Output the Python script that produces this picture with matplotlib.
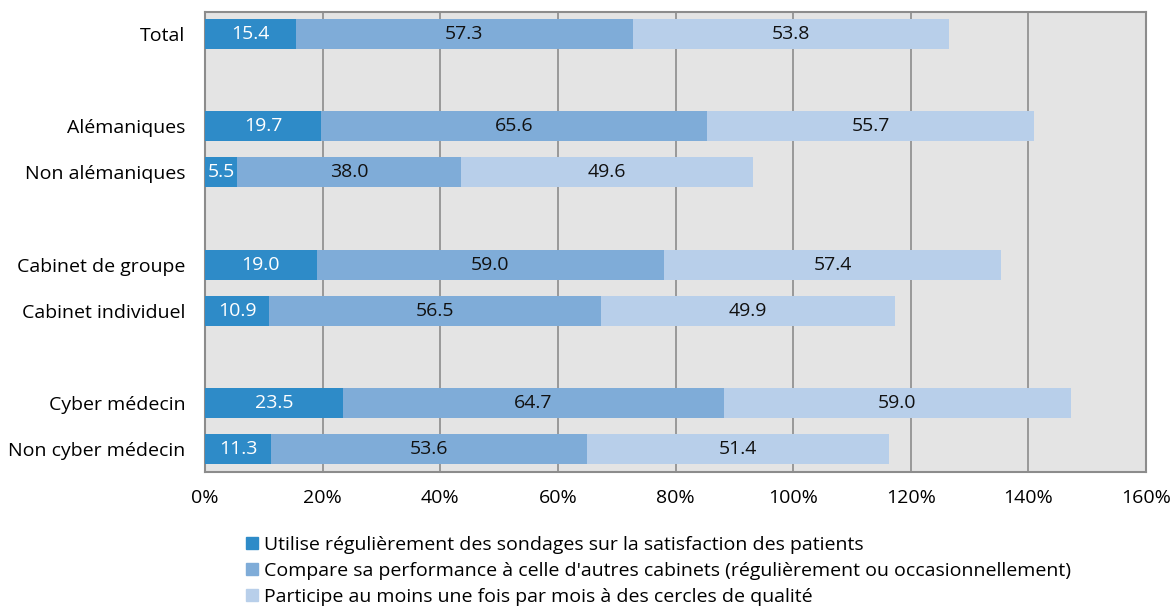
import matplotlib.pyplot as plt
from matplotlib.patches import Patch

plt.rcParams['font.family'] = ['Open Sans', 'DejaVu Sans']

categories = ['Total', '', 'Alémaniques', 'Non alémaniques', '',
              'Cabinet de groupe', 'Cabinet individuel', '',
              'Cyber médecin', 'Non cyber médecin']
sondages = [15.4, None, 19.7, 5.5, None, 19.0, 10.9, None, 23.5, 11.3]
compare = [57.3, None, 65.6, 38.0, None, 59.0, 56.5, None, 64.7, 53.6]
cercles = [53.8, None, 55.7, 49.6, None, 57.4, 49.9, None, 59.0, 51.4]
series_labels = [
    'Utilise régulièrement des sondages sur la satisfaction des patients',
    "Compare sa performance à celle d'autres cabinets (régulièrement ou occasionnellement)",
    'Participe au moins une fois par mois à des cercles de qualité',
]
colors = ['#2E8BC8', '#7FACD8', '#B8CFEA']
text_colors = ['white', '#111111', '#111111']

fig = plt.figure(figsize=(11.74, 6.10), dpi=100)
ax = fig.add_axes([205 / 1174, 1 - 472 / 610, (1146 - 205) / 1174, (472 - 12) / 610])
ax.set_facecolor('#E4E4E4')

for i, cat in enumerate(categories):
    if sondages[i] is None:
        continue
    left = 0
    for vals, col, tc in zip([sondages, compare, cercles], colors, text_colors):
        v = vals[i]
        ax.barh(i, v, left=left, height=0.65, color=col, zorder=3)
        ax.text(left + v / 2, i, f'{v:.1f}', ha='center', va='center',
                fontsize=14, color=tc, zorder=4)
        left += v

ax.set_xlim(0, 160)
ax.set_ylim(9.5, -0.48)
ax.set_xticks(range(0, 161, 20))
ax.set_xticklabels([f'{x}%' for x in range(0, 161, 20)], fontsize=14)
ticks = [i for i, c in enumerate(categories) if c]
ax.set_yticks(ticks)
ax.set_yticklabels([categories[i] for i in ticks], fontsize=14)
ax.tick_params(length=0)
ax.tick_params(axis='y', pad=14)
ax.tick_params(axis='x', pad=12)
ax.grid(axis='x', color='#8C8C8C', linewidth=1.2, zorder=1)
for s in ax.spines.values():
    s.set_color('#8C8C8C')
    s.set_linewidth(1.5)

handles = [Patch(color=c) for c in colors]
fig.legend(handles, series_labels, loc='upper left', bbox_to_anchor=(246 / 1174, 1 - 536 / 610),
           frameon=False, fontsize=14, handlelength=0.6, handleheight=0.6,
           handletextpad=0.3, labelspacing=0.4, borderaxespad=0, borderpad=0)

fig.savefig('out.png', dpi=100)
